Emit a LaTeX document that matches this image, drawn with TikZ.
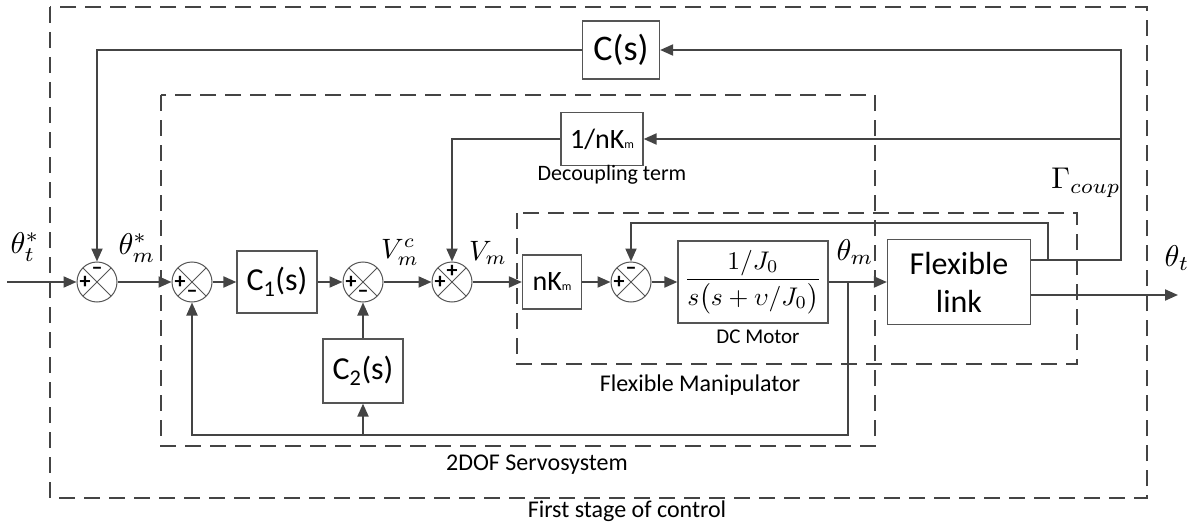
\documentclass[tikz,border=0pt]{standalone}
\usepackage{amsmath}
\usepackage{graphicx}
\usepackage{fontspec}
\setmainfont{Carlito}
\usepackage{tikz}
\usetikzlibrary{arrows.meta, calc, positioning}

\definecolor{sig}{HTML}{444444}
\definecolor{boxgray}{HTML}{555555}

% large math set at normal size, then scaled
\newcommand{\bigmath}[2][3]{\scalebox{#1}{\normalsize$#2$}}

\begin{document}
\begin{tikzpicture}[x=1pt, y=-1pt, >={Triangle[length=13pt,width=11pt]},
    block/.style={draw=boxgray, line width=1.2pt, inner sep=0pt, font=\fontsize{32}{36}\selectfont},
    sumnode/.style={circle, draw=boxgray, line width=1pt, minimum size=40pt, inner sep=0pt,
        path picture={\draw[boxgray, line width=0.9pt]
            (path picture bounding box.north west) -- (path picture bounding box.south east)
            (path picture bounding box.north east) -- (path picture bounding box.south west);}},
    sgn/.style={font=\fontsize{22}{22}\selectfont\bfseries, inner sep=0pt},
    wire/.style={draw=sig, line width=2pt},
    frame/.style={draw=sig, line width=1.6pt, dash pattern=on 16pt off 9pt},
    caption/.style={font=\fontsize{24}{28}\selectfont, inner sep=0pt},
    sym/.style={inner sep=0pt}]

    \useasboundingbox (0,0) rectangle (1195,527);

    % --- Dashed frames ---
    \draw[frame] (50,7) rectangle (1147,498);
    \draw[frame] (161,95) rectangle (875,446);
    \draw[frame] (517,213) rectangle (1077,364);

    % --- Forward path ---
    \node[sumnode] (s1) at (97,282) {};
    \node[sumnode] (s2) at (192,282) {};
    \node[block, minimum width=80pt, minimum height=62pt] (c1) at (277,282) {C\textsubscript{1}(s)};
    \node[sumnode] (s3) at (363,282) {};
    \node[sumnode] (s4) at (452,282) {};
    \node[block, minimum width=59pt, minimum height=54pt, font=\fontsize{28}{30}\selectfont] (nkm) at (552,282) {nK{\fontsize{12}{12}\selectfont m}};
    \node[sumnode] (s5) at (631,282) {};
    \node[block, minimum width=150pt, minimum height=82pt, font=\normalsize] (dcm) at (753,282) {\bigmath[2.55]{\dfrac{1/J_0}{s\bigl(s+\upsilon/J_0\bigr)}}};
    \node[block, minimum width=143pt, minimum height=85pt, align=center, font=\fontsize{32}{38}\selectfont] (flex) at (959,282) {Flexible\\link};

    % --- Feedback blocks ---
    \node[block, minimum width=77pt, minimum height=58pt, font=\fontsize{36}{40}\selectfont] (cs) at (621,50) {C(s)};
    \node[block, minimum width=82pt, minimum height=53pt, font=\fontsize{28}{30}\selectfont] (dec) at (602,139) {1/nK{\fontsize{12}{12}\selectfont m}};
    \node[block, minimum width=80pt, minimum height=64pt] (c2) at (363,371) {C\textsubscript{2}(s)};

    % --- Free ends and corners ---
    \coordinate (in) at (7,282);
    \coordinate (out) at (1178,295);
    \coordinate (bm) at (848,282);
    \coordinate (fb) at (848,435);
    \coordinate (gup) at (1121,260);
    \coordinate (gdec) at (1121,139);
    \coordinate (inner) at (1048,260);
    \coordinate (innertop) at (1048,223);

    % --- Signs ---
    \node[sgn] at ([xshift=-12pt]s1.center) {+};
    \node[sgn] at ([yshift=11pt]s1.center) {–};
    \node[sgn] at ([xshift=-12pt]s2.center) {+};
    \node[sgn] at ([yshift=-12pt]s2.center) {–};
    \node[sgn] at ([xshift=-12pt]s3.center) {+};
    \node[sgn] at ([yshift=-12pt]s3.center) {–};
    \node[sgn] at ([xshift=-12pt]s4.center) {+};
    \node[sgn] at ([yshift=11pt]s4.center) {+};
    \node[sgn] at ([xshift=-12pt]s5.center) {+};
    \node[sgn] at ([yshift=11pt]s5.center) {–};

    % --- Connections ---
    \draw[wire,->] (in) -- (s1);
    \draw[wire,->] (s1) -- (s2);
    \draw[wire,->] (s2) -- (c1);
    \draw[wire,->] (c1) -- (s3);
    \draw[wire,->] (s3) -- (s4);
    \draw[wire,->] (s4) -- (nkm);
    \draw[wire,->] (nkm) -- (s5);
    \draw[wire,->] (s5) -- (dcm);
    \draw[wire,->] (dcm) -- (flex);
    \draw[wire,->] (flex.east |- out) -- (out);
    \draw[wire,->] ([yshift=22pt]flex.east) -- (gup) |- (cs);
    \draw[wire,->] (cs) -| (s1);
    \draw[wire,->] (gdec) -- (dec);
    \draw[wire,->] (dec) -| (s4);
    \draw[wire,->] (inner) -- (innertop) -| (s5);
    \draw[wire,->] (bm) -- (fb) -| (s2);
    \draw[wire,->] (c2 |- fb) -- (c2);
    \draw[wire,->] (c2) -- (s3);

    % --- Signal labels ---
    \node[sym] (thts) at (25,247) {\bigmath{\theta_t^*}};
    \node[sym] (thms) at (137,248) {\bigmath{\theta_m^*}};
    \node[sym] (vmc) at (400,252) {\bigmath[2.8]{V_m^c}};
    \node[sym] (vm) at (488,253) {\bigmath[2.8]{V_m}};
    \node[sym] (thm) at (855,252) {\bigmath{\theta_m}};
    \node[sym] (tht) at (1177,258) {\bigmath{\theta_t}};
    \node[sym] (gam) at (1086,183) {\bigmath{\Gamma_{coup}}};

    % --- Captions ---
    \node[caption, font=\fontsize{22}{24}\selectfont] (declab) at (612,175) {Decoupling term};
    \node[caption, font=\fontsize{21}{23}\selectfont] (dclab) at (758,337) {DC Motor};
    \node[caption] (fmlab) at (700,385) {Flexible Manipulator};
    \node[caption] (servolab) at (537,465) {2DOF Servosystem};
    \node[caption] (firstlab) at (627,511) {First stage of control};
\end{tikzpicture}
\end{document}
